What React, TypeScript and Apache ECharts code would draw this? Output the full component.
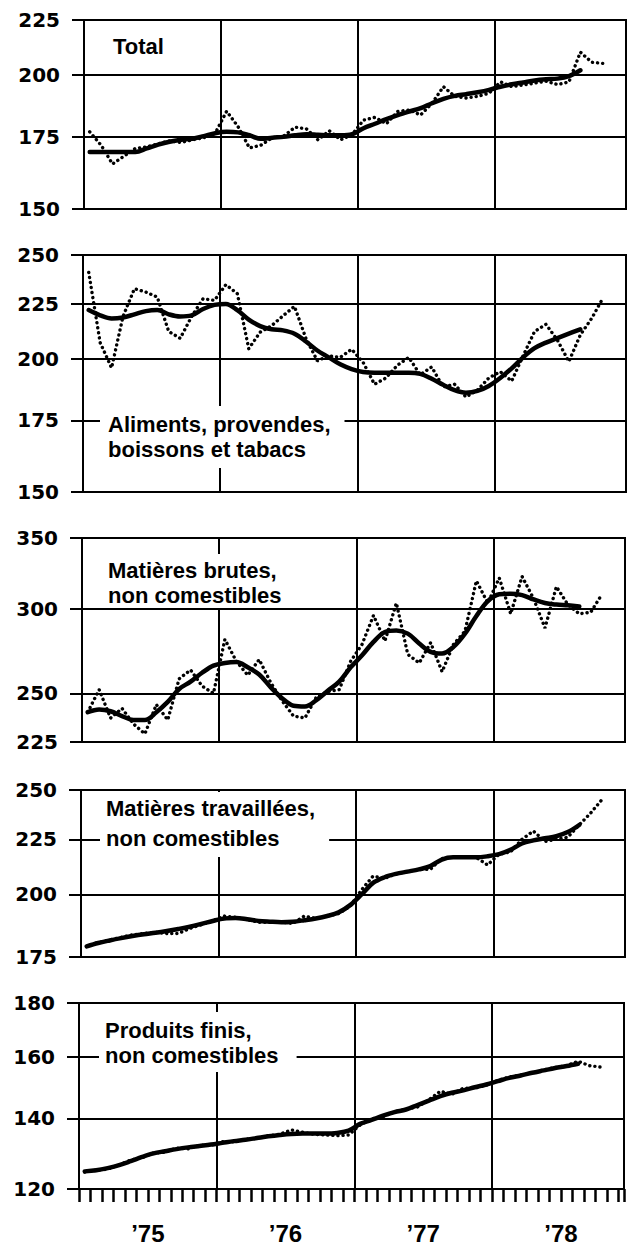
import React, { useEffect, useRef } from "react";
import * as echarts from "echarts";

// ---- data (monthly, Jan 1975 = month 0) ----
const yearLabels = ["’75", "’76", "’77", "’78"];
const yearLabelMonths = [6, 18, 30, 42];

const panelTitles = [
  "Total",
  "Aliments, provendes,\nboissons et tabacs",
  "Matières brutes,\nnon comestibles",
  "Matières travaillées,\nnon comestibles",
  "Produits finis,\nnon comestibles",
];

const ticksTotal = [150, 175, 200, 225];
const ticksFood = [150, 175, 200, 225, 250];
const ticksCrude = [225, 250, 300, 350];
const ticksFabricated = [175, 200, 225, 250];
const ticksEnd = [120, 140, 160, 180];

const totalMonthly = [177, 172, 165.2, 168, 170.8, 171.4, 172.5, 173.6, 173, 174, 174.8, 176.5, 185, 179, 171, 172, 174.8, 175.4, 178.8, 178.1, 174, 177.4, 174, 176, 181.5, 182.6, 180.1, 184.9, 185.5, 183.5, 188.2, 195, 191, 190.3, 191, 192.3, 197, 195, 195.7, 196.5, 197.3, 195.9, 197, 210, 205.5, 205];
const totalTrend = [169.5, 169.5, 169.5, 169.5, 169.5, 170.8, 172.2, 173.3, 174, 174.4, 175.4, 176.5, 177, 176.8, 175.7, 174.4, 174.8, 175.1, 175.7, 176.1, 175.9, 175.7, 175.7, 176.1, 178.4, 180.1, 181.9, 183.5, 184.9, 186.2, 188.2, 190, 191.2, 191.9, 192.7, 193.7, 195, 196, 196.8, 197.6, 198.1, 198.4, 199.5, 202];

const foodMonthly = [240.8, 207, 196, 219, 232.5, 230.8, 228.3, 212, 208.9, 218.9, 227.5, 226.7, 234.5, 230, 204.3, 211.7, 214.7, 219.3, 223.8, 208.9, 199, 201.2, 200.5, 204, 198.4, 189.2, 191.8, 197.1, 200.5, 193.1, 196.4, 188.1, 189.2, 184.1, 186.8, 191.8, 194.4, 190.5, 201.2, 212, 215.3, 208.1, 198.7, 210.4, 218.1, 228];
const foodTrend = [222, 219.5, 218, 218.5, 220, 221.5, 222, 220, 219, 219.5, 222.5, 224.5, 225, 222, 217.5, 214.5, 213, 212.5, 211, 207.5, 203.5, 200.5, 197.5, 195.5, 194.3, 194, 194, 194, 194, 193.5, 191.5, 189, 186.8, 185.8, 186.5, 188.5, 191.8, 195.8, 200.5, 204.5, 207, 209, 211, 213];

const crudeMonthly = [240, 252, 237, 242, 234, 229, 244, 236, 258, 263, 254, 250, 281, 268, 260, 269, 256, 246, 238, 237, 248, 251, 252, 268, 278, 296, 280, 304, 272, 267, 279, 262, 278, 286, 319, 304, 321, 297, 322, 307, 288, 315, 303, 297, 298, 310];
const crudeTrend = [240, 241.4, 240.5, 238, 236, 236, 240, 245.4, 252.4, 256.4, 261.4, 265.5, 267, 267.5, 264.5, 260.4, 253.4, 247.4, 243.4, 243, 246.4, 251.4, 256.4, 264.5, 271.5, 279.5, 285.5, 286.5, 284.5, 278.5, 273.5, 272.5, 276.5, 284.5, 295.6, 305.2, 309.8, 310.2, 309.3, 306.4, 304, 303, 302.5, 301.8];

const fabricatedMonthly = [179, 180.5, 181.5, 182.5, 183.5, 184, 184.5, 184, 184, 186, 187.5, 189, 191, 190.5, 189.5, 188.5, 188.5, 188.5, 188, 191, 190, 191, 192, 195, 202, 208, 207, 209, 210, 211, 211, 216, 216.5, 216.5, 216.5, 213, 218, 219, 225, 229, 224, 225, 226, 232, 238, 245];
const fabricatedTrend = [179, 180.3, 181.3, 182.2, 183, 183.7, 184.3, 185, 185.8, 186.7, 187.8, 189, 190, 190.2, 189.7, 189, 188.7, 188.5, 188.7, 189.3, 190, 191, 192.5, 195.5, 200, 205, 207.5, 209, 210, 211, 212.5, 215.5, 216.5, 216.5, 216.5, 217, 218, 220, 223, 224.5, 225.5, 226.5, 228.5, 232];

const endMonthly = [124.5, 125, 125.3, 126.5, 127.8, 128.5, 129.8, 130, 131.2, 131, 132, 132, 133, 133, 133.8, 134, 134.8, 135.2, 136.5, 135.8, 135.2, 135, 134.8, 135, 138, 139.8, 140.5, 142, 142.8, 143.5, 145.8, 148.5, 147.5, 149.5, 149.5, 150.5, 152, 153.2, 153.8, 154.5, 155.6, 156.4, 157, 158.5, 157, 156.5];
const endTrend = [124.7, 125, 125.6, 126.4, 127.5, 128.7, 129.7, 130.3, 130.9, 131.4, 131.8, 132.2, 132.7, 133.2, 133.6, 134.1, 134.6, 135, 135.3, 135.4, 135.4, 135.4, 135.6, 136.3, 138.3, 139.5, 140.8, 141.9, 142.7, 144.1, 145.5, 146.9, 148, 148.8, 149.8, 150.7, 151.8, 152.9, 153.7, 154.6, 155.4, 156.2, 156.9, 157.7];

const monthlySeries = [totalMonthly, foodMonthly, crudeMonthly, fabricatedMonthly, endMonthly];
const trendSeries = [totalTrend, foodTrend, crudeTrend, fabricatedTrend, endTrend];
const panelTicks = [ticksTotal, ticksFood, ticksCrude, ticksFabricated, ticksEnd];

// ---- layout ----
const panels = [
  { left: 84, right: 626, top: 20, bottom: 209 },
  { left: 83, right: 626, top: 255, bottom: 492 },
  { left: 82, right: 625, top: 538, bottom: 742 },
  { left: 81, right: 625, top: 790, bottom: 957 },
  { left: 79, right: 624, top: 1003, bottom: 1189 },
];
const titleLayout = [
  { left: 113, top: 34, padding: 0, lineHeight: 25, bg: "transparent" },
  { left: 100, top: 406, padding: [6, 14, 6, 8], lineHeight: 25, bg: "#fff" },
  { left: 100, top: 554, padding: [4, 14, 0, 8], lineHeight: 25, bg: "#fff" },
  { left: 100, top: 792, padding: [1, 14, 4, 6], lineHeight: 30, bg: "#fff" },
  { left: 99, top: 1012, padding: [6, 18, 4, 6], lineHeight: 25, bg: "#fff" },
];

const INK = "#000";
const X_MAX = 47.5;

export default function App() {
  const ref = useRef<HTMLDivElement>(null);
  useEffect(() => {
    if (!ref.current) return;
    const chart = echarts.init(ref.current, undefined, { renderer: "svg" });
    const last = panels.length - 1;
    const option: any = {
      animation: false,
      backgroundColor: "#fff",
      title: panelTitles.map((t, i) => ({
        text: t,
        left: titleLayout[i].left,
        top: titleLayout[i].top,
        padding: titleLayout[i].padding,
        backgroundColor: titleLayout[i].bg,
        textStyle: {
          fontFamily: "Liberation Sans",
          fontWeight: "bold",
          fontSize: 22,
          color: INK,
          lineHeight: titleLayout[i].lineHeight,
        },
      })),
      grid: panels.map((p) => ({
        left: p.left,
        top: p.top,
        width: p.right - p.left,
        height: p.bottom - p.top,
        show: true,
        borderColor: INK,
        borderWidth: 2,
        backgroundColor: "transparent",
      })),
      xAxis: panels.map((_, i) => ({
        type: "value",
        gridIndex: i,
        min: 0,
        max: X_MAX,
        interval: 12,
        axisLine: { show: false },
        axisTick: { show: i === last, length: 13, lineStyle: { color: INK, width: 2.5 } },
        minorTick: { show: i === last, splitNumber: 12, length: 13, lineStyle: { color: INK, width: 2.5 } },
        axisLabel: {
          show: i === last,
          customValues: yearLabelMonths,
          formatter: (v: number) => yearLabels[Math.round((v - 6) / 12)] ?? "",
          fontFamily: "Liberation Sans",
          fontWeight: "bold",
          fontSize: 24,
          color: INK,
          margin: 32,
        },
        splitLine: { show: true, lineStyle: { color: INK, width: 2 } },
      })),
      yAxis: panels.map((_, i) => ({
        type: "log",
        logBase: 10,
        gridIndex: i,
        min: panelTicks[i][0],
        max: panelTicks[i][panelTicks[i].length - 1],
        axisLine: { show: false },
        axisTick: { show: true, length: 12, customValues: panelTicks[i], lineStyle: { color: INK, width: 2 } },
        axisLabel: {
          customValues: panelTicks[i],
          fontFamily: "DejaVu Sans",
          fontWeight: "bold",
          fontSize: 20,
          color: INK,
          margin: 24,
        },
        splitLine: { show: true, lineStyle: { color: INK, width: 2 } },
        minorTick: { show: false },
        minorSplitLine: { show: false },
      })),
      series: panels.flatMap((_, i) => [
        {
          type: "line",
          xAxisIndex: i,
          yAxisIndex: i,
          data: monthlySeries[i].map((v, k) => [k + 0.5, v]),
          symbol: "none",
          showSymbol: false,
          lineStyle: { color: INK, width: 3.4, type: [0.1, 5], cap: "round" },
          z: 3,
        },
        {
          type: "line",
          xAxisIndex: i,
          yAxisIndex: i,
          data: trendSeries[i].map((v, k) => [k + 0.5, v]),
          symbol: "none",
          showSymbol: false,
          smooth: 0.35,
          lineStyle: { color: INK, width: 4.5, cap: "round", join: "round" },
          z: 4,
        },
      ]),
    };
    chart.setOption(option);
    return () => chart.dispose();
  }, []);
  return (
    <div
      ref={ref}
      style={{ position: "absolute", left: 0, top: 0, width: 634, height: 1245, background: "#fff" }}
    />
  );
}
